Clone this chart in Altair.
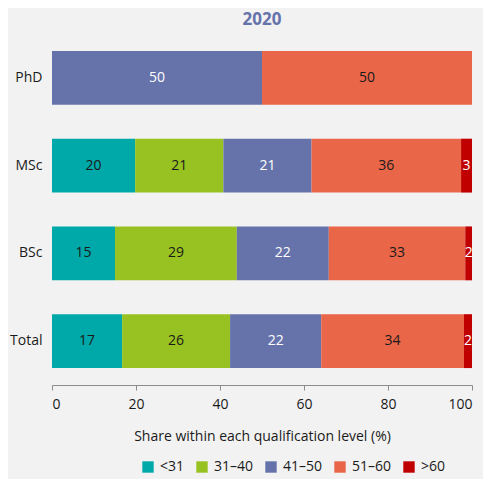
import altair as alt
import pandas as pd

levels = ["PhD", "MSc", "BSc", "Total"]
groups = ["<31", "31–40", "41–50", "51–60", ">60"]
colors = ["#00a9a9", "#98c222", "#6673ab", "#e96648", "#c00000"]
phd = [0.0, 0.0, 50.0, 50.0, 0.0]
msc = [19.8, 21.0, 21.0, 35.6, 2.6]
bsc = [15.0, 29.0, 21.9, 32.5, 1.6]
total = [16.7, 25.7, 21.7, 34.0, 1.9]

rows = []
for lvl, vals in zip(levels, [phd, msc, bsc, total]):
    for i, (g, v) in enumerate(zip(groups, vals)):
        if v > 0:
            rows.append({"level": lvl, "group": g, "order": i, "value": v})
df = pd.DataFrame(rows)

FONT = "Open Sans"
FS = 14

base = alt.Chart(df).transform_stack(
    stack="value", as_=["x0", "x1"], groupby=["level"],
    sort=[alt.SortField("order", order="ascending")]
).transform_calculate(mid="(datum.x0 + datum.x1) / 2")

y = alt.Y("level:N", sort=levels, title=None,
          scale=alt.Scale(paddingInner=0.386, paddingOuter=0.193),
          axis=alt.Axis(domain=False, ticks=False, labelPadding=10,
                        labelFontSize=FS, labelColor="#1a1a1a", labelFont=FONT))

bars = base.mark_bar().encode(
    x=alt.X("x0:Q", scale=alt.Scale(domain=[0, 100], nice=False),
            title="Share within each qualification level (%)",
            axis=alt.Axis(values=[0, 20, 40, 60, 80, 100], grid=False,
                          domainColor="#8c8c8c", tickColor="#8c8c8c", tickSize=5,
                          labelFontSize=FS, labelColor="#1a1a1a", labelFont=FONT,
                          labelPadding=7, titleFontSize=FS, titleFontWeight="normal",
                          titleColor="#1a1a1a", titleFont=FONT, titlePadding=18)),
    x2="x1:Q",
    y=y,
    color=alt.Color("group:N", scale=alt.Scale(domain=groups, range=colors),
                    legend=alt.Legend(title=None, orient="none", direction="horizontal",
                                      legendX=89, legendY=426, symbolType="square",
                                      symbolSize=130, symbolStrokeWidth=0,
                                      labelFontSize=FS, labelColor="#1a1a1a",
                                      labelFont=FONT, columnPadding=10,
                                      labelOffset=5)),
)

labels = base.mark_text(fontSize=FS, font=FONT).encode(
    x=alt.X("mid:Q"),
    y=alt.Y("level:N", sort=levels),
    text=alt.Text("value:Q", format=".0f"),
    color=alt.condition(
        "datum.group == '41–50' || datum.group == '>60'",
        alt.value("#ffffff"), alt.value("#1a1a1a")),
)

chart = alt.layer(bars, labels).properties(
    width=420, height=351,
    title=alt.TitleParams("2020", fontSize=17, fontWeight="bold", color="#6673ab",
                          font=FONT, anchor="middle", offset=5),
    background="#f2f2f2",
    padding={"left": 44, "top": 26, "right": 11, "bottom": 94},
    autosize="none",
).configure_view(stroke=None)

chart.save("out.html", embed_options={"renderer": "svg", "actions": False})
